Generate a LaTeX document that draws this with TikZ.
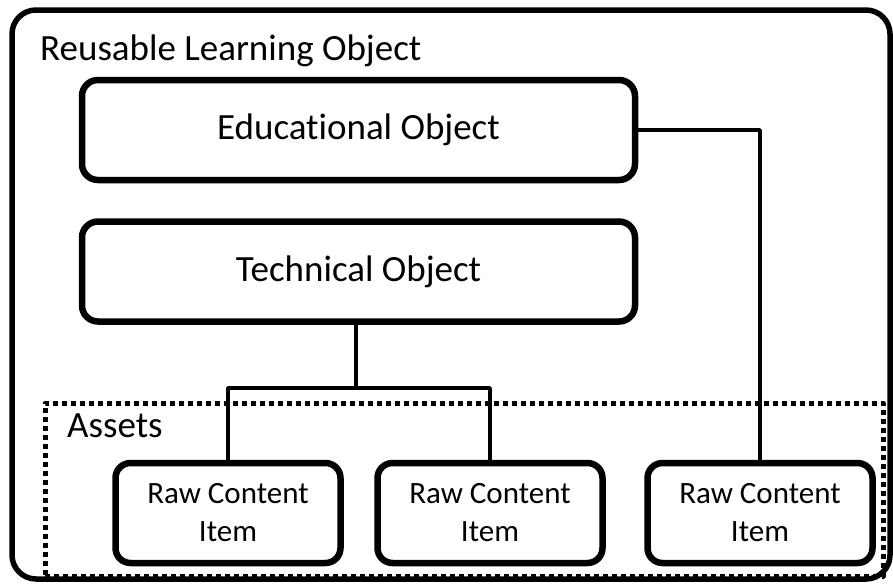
\documentclass[tikz,border=0pt]{standalone}
\usepackage{fontspec}
\setmainfont{Carlito}[Ligatures=NoCommon]
\usetikzlibrary{positioning, calc}

\begin{document}
\begin{tikzpicture}[x=1pt, y=-1pt, line join=round,
    bigbox/.style = {rectangle, rounded corners=16pt, draw=black, line width=6.5pt,
                     minimum width=553pt, minimum height=100pt, inner sep=0pt,
                     font=\fontsize{37}{40}\selectfont},
    itembox/.style = {rectangle, rounded corners=15pt, draw=black, line width=6.5pt,
                      minimum width=225pt, minimum height=100pt, inner sep=0pt, align=center,
                      font=\fontsize{31}{38}\selectfont},
    link/.style = {draw=black, line width=3.5pt}]
  \useasboundingbox (0,0) rectangle (893,584);

  % outer frame
  \node[rectangle, rounded corners=24pt, draw=black, line width=5.5pt,
        minimum width=878pt, minimum height=569pt] (rlo) at (451,294.5) {};
  \node[anchor=base west, inner sep=0pt, font=\fontsize{37}{40}\selectfont]
  (rlolabel) at (40,60) {Reusable Learning Object};

  \node[bigbox] (edu) at (358.5,130) {Educational Object};
  \node[bigbox, below = 35pt of edu] (tech) {Technical Object};

  % dotted assets area
  \node[rectangle, draw=black, line width=5pt, dash pattern=on 5pt off 4pt,
        minimum width=838pt, minimum height=173pt] (assets) at (464,489.5) {};
  \node[anchor=base west, inner sep=0pt, font=\fontsize{37}{40}\selectfont]
  (assetslabel) at (67,437) {Assets};

  \node[itembox] (raw1) at (228,513) {Raw Content\\Item};
  \node[itembox] (raw2) at (490,513) {Raw Content\\Item};
  \node[itembox] (raw3) at (760,513) {Raw Content\\Item};

  \coordinate (split) at (356,388);

  \draw[link] (tech.south -| split) -- (split);
  \draw[link] (raw1.north) |- (split) -| (raw2.north);
  \draw[link] (edu.east) -| (raw3.north);

\end{tikzpicture}
\end{document}
